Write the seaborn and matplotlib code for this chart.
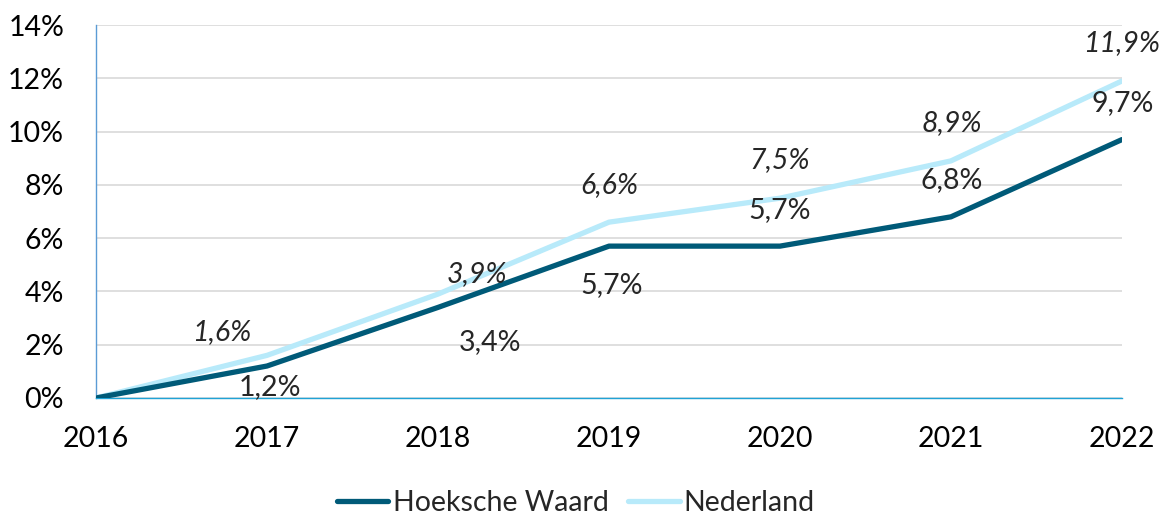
import matplotlib

matplotlib.use("Agg")
import matplotlib.pyplot as plt
import matplotlib.ticker as mticker
import pandas as pd
import seaborn as sns

# chart data (percent)
years = [2016, 2017, 2018, 2019, 2020, 2021, 2022]
hoeksche_waard = [0.0, 1.2, 3.4, 5.7, 5.7, 6.8, 9.7]
nederland = [0.0, 1.6, 3.9, 6.6, 7.5, 8.9, 11.9]
series_names = ["Hoeksche Waard", "Nederland"]
y_ticks = [0, 2, 4, 6, 8, 10, 12, 14]

# label offsets in pixels (dx, dy), first point has no label
hw_offsets = [None, (3, -21), (52, -35), (3, -39), (0, 36), (1, 37), (1, 37)]
nl_offsets = [None, (-45, 23), (39, 20), (0, 37), (0, 38), (1, 38), (0, 38)]

FS = 20.5

sns.set_theme(style="white")
plt.rcParams["font.family"] = ["Lato", "DejaVu Sans"]

df = pd.DataFrame(
    {
        "jaar": years * 2,
        "waarde": hoeksche_waard + nederland,
        "gebied": [series_names[0]] * len(years) + [series_names[1]] * len(years),
    }
)

fig = plt.figure(figsize=(11.67, 5.18), dpi=100)
ax = fig.add_axes([0.0823, 0.2317, 0.9614 - 0.0823, 0.9517 - 0.2317])

palette = {series_names[0]: "#005A78", series_names[1]: "#B8EAFA"}
sns.lineplot(
    data=df,
    x="jaar",
    y="waarde",
    hue="gebied",
    hue_order=[series_names[1], series_names[0]],
    palette=palette,
    linewidth=3.8,
    ax=ax,
    solid_capstyle="round",
    zorder=3,
)

ax.set_xlim(years[0], years[-1])
ax.set_ylim(y_ticks[0], y_ticks[-1])
ax.set_yticks(y_ticks)
ax.set_xticks(years)
ax.yaxis.set_major_formatter(mticker.FuncFormatter(lambda v, _: f"{v:.0f}%"))
ax.tick_params(axis="both", length=0, labelsize=FS, colors="black")
ax.tick_params(axis="x", pad=20)
ax.tick_params(axis="y", pad=23)
ax.set_xlabel("")
ax.set_ylabel("")
ax.grid(axis="y", color="#D9D9D9", linewidth=1.2)
ax.grid(axis="x", visible=False)

for side in ["top", "right"]:
    ax.spines[side].set_visible(False)
ax.spines["left"].set_color("#5B9BD5")
ax.spines["left"].set_linewidth(1.0)
ax.spines["bottom"].set_color("#1FA3D6")
ax.spines["bottom"].set_linewidth(1.0)


def fmt(v):
    return f"{v:.1f}".replace(".", ",") + "%"


for vals, offs, style in [
    (hoeksche_waard, hw_offsets, "normal"),
    (nederland, nl_offsets, "italic"),
]:
    for x, v, off in zip(years, vals, offs):
        if off is None:
            continue
        ax.annotate(
            fmt(v),
            xy=(x, v),
            xytext=off,
            textcoords="offset pixels",
            ha="center",
            va="center",
            fontsize=FS,
            fontstyle=style,
            zorder=4,
        )

handles, labels = ax.get_legend_handles_labels()
order = [labels.index(n) for n in series_names]
ax.legend(
    [handles[i] for i in order],
    [labels[i] for i in order],
    loc="center",
    bbox_to_anchor=(576 / 1167, 1 - 503 / 518),
    bbox_transform=fig.transFigure,
    ncol=2,
    frameon=False,
    fontsize=FS,
    handlelength=1.8,
    handletextpad=0.15,
    columnspacing=0.7,
)

fig.savefig("out.png", dpi=100)
